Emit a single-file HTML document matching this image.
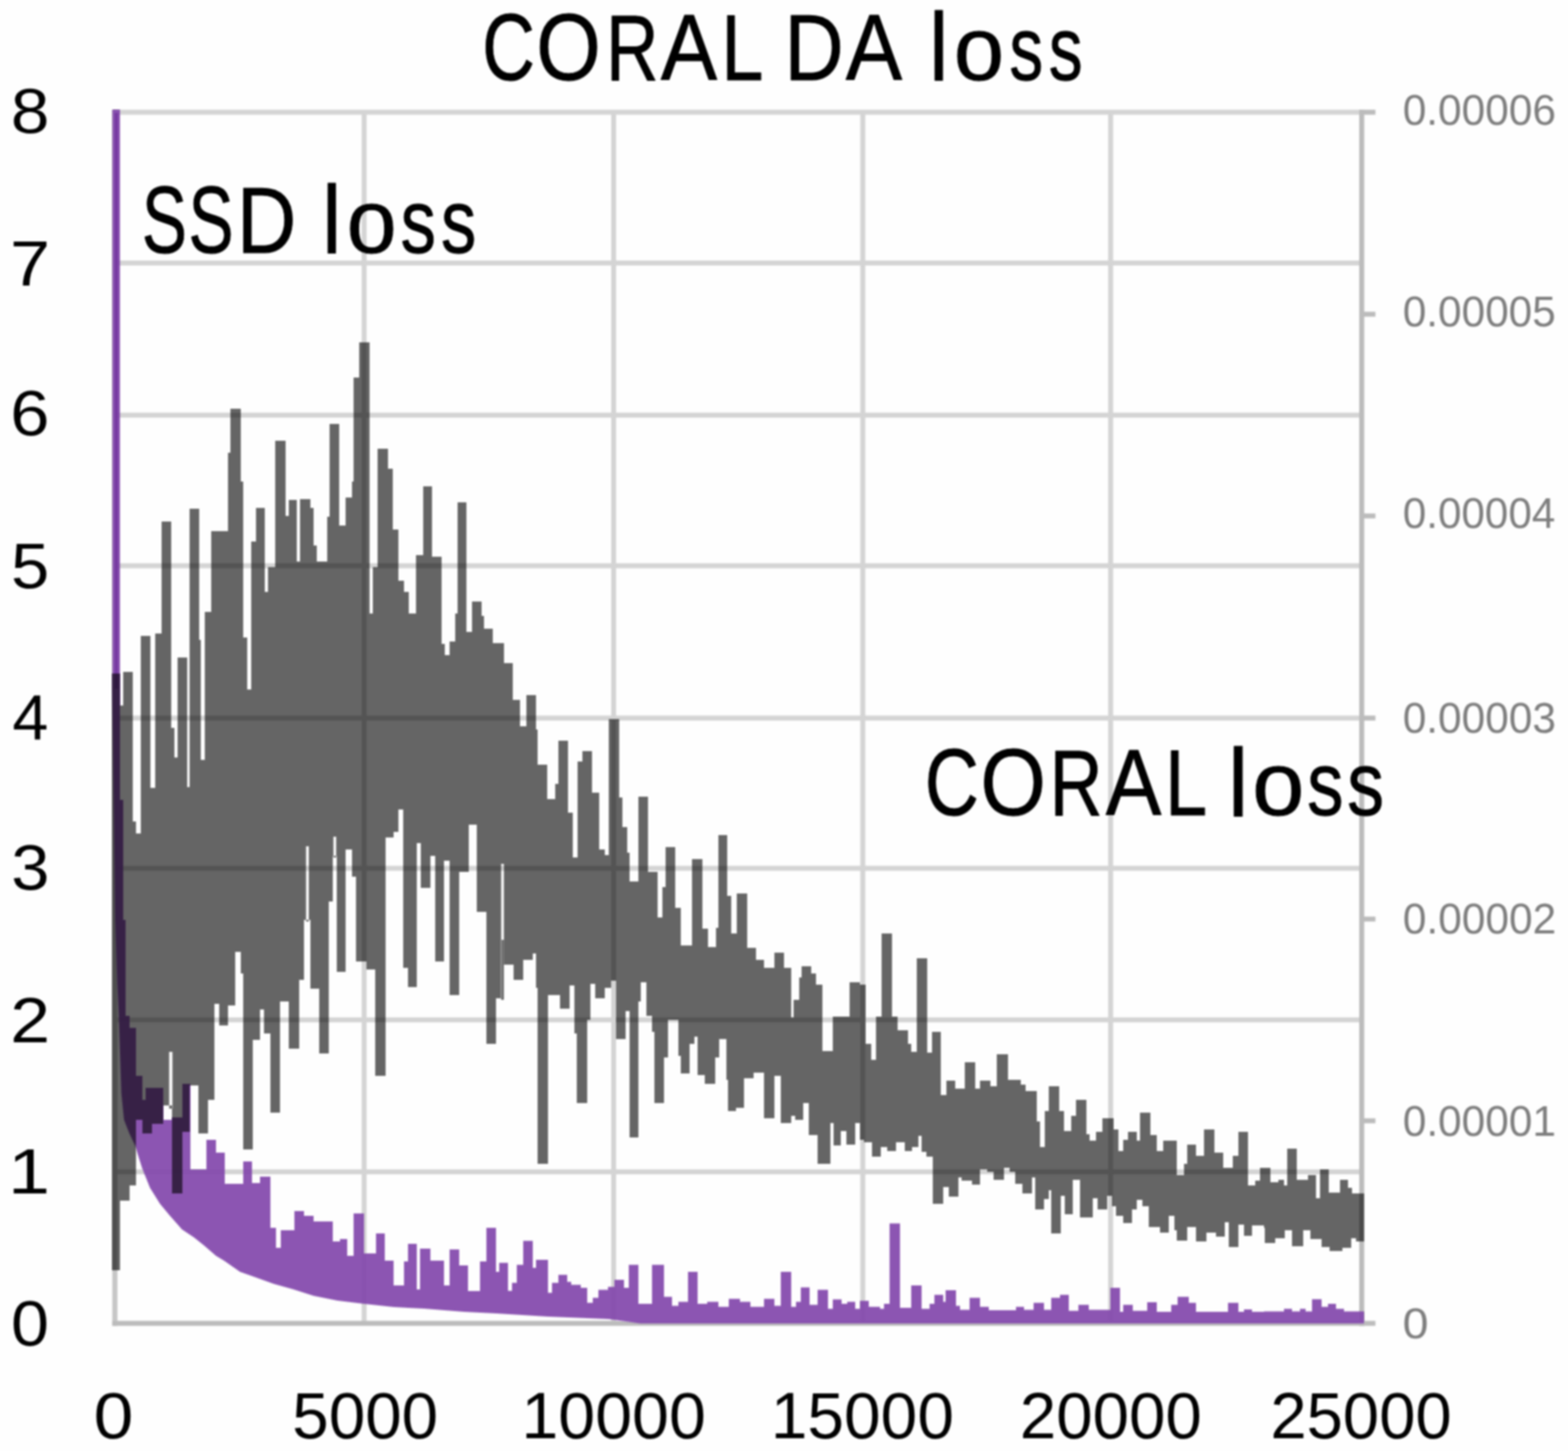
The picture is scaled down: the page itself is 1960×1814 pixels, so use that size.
<!DOCTYPE html>
<html lang="en">
<head>
<meta charset="utf-8">
<title>CORAL DA loss</title>
<style>
html,body{margin:0;padding:0;background:#fff;}
body{width:1960px;height:1814px;overflow:hidden;}
svg{display:block;font-family:"Liberation Sans","DejaVu Sans",sans-serif;}
</style>
</head>
<body>
<svg width="1960" height="1814" viewBox="0 0 1960 1814">
<defs>
<filter id="soft" x="-2%" y="-2%" width="104%" height="104%"><feGaussianBlur stdDeviation="1.3"/></filter>
</defs>
<rect width="1960" height="1814" fill="#fefefe"/>
<g id="grid" filter="url(#soft)"><rect x="452.1" y="140" width="6.2" height="1514" fill="#d4d4d4"/><rect x="764.0" y="140" width="6.2" height="1514" fill="#d4d4d4"/><rect x="1075.4" y="140" width="6.2" height="1514" fill="#d4d4d4"/><rect x="1385.2" y="140" width="6.2" height="1514" fill="#d4d4d4"/><rect x="143" y="137.2" width="1560" height="6.2" fill="#d4d4d4"/><rect x="143" y="325.7" width="1560" height="6.2" fill="#d4d4d4"/><rect x="143" y="515.9" width="1560" height="6.2" fill="#d4d4d4"/><rect x="143" y="704.2" width="1560" height="6.2" fill="#d4d4d4"/><rect x="143" y="894.6" width="1560" height="6.2" fill="#d4d4d4"/><rect x="143" y="1082.4" width="1560" height="6.2" fill="#d4d4d4"/><rect x="143" y="1271.9" width="1560" height="6.2" fill="#d4d4d4"/><rect x="143" y="1461.9" width="1560" height="6.2" fill="#d4d4d4"/><rect x="140.4" y="137.2" width="6.4" height="1520.3" fill="#c6c6c6"/><rect x="140.4" y="1651.3" width="1565" height="6.2" fill="#bcbcbc"/><rect x="1699" y="137.2" width="6.3" height="1520.3" fill="#bcbcbc"/><rect x="1699" y="137.2" width="20.3" height="6.2" fill="#bcbcbc"/><rect x="1699" y="389.7" width="20.3" height="6.2" fill="#bcbcbc"/><rect x="1699" y="641.9" width="20.3" height="6.2" fill="#bcbcbc"/><rect x="1699" y="894.6" width="20.3" height="6.2" fill="#bcbcbc"/><rect x="1699" y="1145.9" width="20.3" height="6.2" fill="#bcbcbc"/><rect x="1699" y="1398.1" width="20.3" height="6.2" fill="#bcbcbc"/><rect x="1699" y="1651.3" width="20.3" height="6.2" fill="#bcbcbc"/></g>
<g id="purple" filter="url(#soft)" opacity="0.93"><path d="M140.0 137.0 L150.0 137.0 L150.0 1000.0 L154.0 1000.0 L154.0 1150.0 L157.0 1150.0 L157.0 1270.0 L162.0 1270.0 L162.0 1285.0 L170.0 1285.0 L170.0 1345.0 L178.0 1345.0 L178.0 1375.0 L182.0 1375.0 L182.0 1360.0 L204.0 1360.0 L204.0 1400.0 L215.0 1400.0 L215.0 1397.0 L228.0 1397.0 L228.0 1355.0 L238.0 1355.0 L238.0 1462.0 L258.0 1462.0 L258.0 1425.0 L270.0 1425.0 L270.0 1441.0 L281.0 1441.0 L281.0 1480.0 L304.0 1480.0 L304.0 1452.0 L315.0 1452.0 L315.0 1479.0 L325.0 1479.0 L325.0 1471.0 L338.0 1471.0 L338.0 1535.0 L345.0 1535.0 L345.0 1560.0 L351.0 1560.0 L351.0 1538.0 L368.0 1538.0 L368.0 1514.0 L380.0 1514.0 L380.0 1520.0 L392.0 1520.0 L392.0 1527.0 L416.0 1527.0 L416.0 1552.0 L425.0 1552.0 L425.0 1549.0 L434.0 1549.0 L434.0 1570.0 L442.0 1570.0 L442.0 1517.0 L455.0 1517.0 L455.0 1567.0 L470.0 1567.0 L470.0 1542.0 L481.0 1542.0 L481.0 1576.0 L492.0 1576.0 L492.0 1607.0 L505.0 1607.0 L505.0 1577.0 L510.0 1577.0 L510.0 1555.0 L521.0 1555.0 L521.0 1612.0 L525.0 1612.0 L525.0 1561.0 L538.0 1561.0 L538.0 1576.0 L555.0 1576.0 L555.0 1607.0 L562.0 1607.0 L562.0 1562.0 L574.0 1562.0 L574.0 1582.0 L585.0 1582.0 L585.0 1614.0 L600.0 1614.0 L600.0 1577.0 L608.0 1577.0 L608.0 1535.0 L620.0 1535.0 L620.0 1590.0 L624.0 1590.0 L624.0 1578.8 L635.0 1578.8 L635.0 1613.8 L640.0 1613.8 L640.0 1603.8 L646.0 1603.8 L646.0 1581.2 L654.0 1581.2 L654.0 1551.2 L666.0 1551.2 L666.0 1585.0 L670.0 1585.0 L670.0 1575.0 L685.0 1575.0 L685.0 1616.2 L690.0 1616.2 L690.0 1603.8 L698.0 1603.8 L698.0 1593.8 L709.0 1593.8 L709.0 1602.5 L714.0 1602.5 L714.0 1606.2 L726.0 1606.2 L726.0 1610.0 L734.0 1610.0 L734.0 1628.8 L741.0 1628.8 L741.0 1622.5 L748.0 1622.5 L748.0 1612.5 L760.0 1612.5 L760.0 1608.8 L768.0 1608.8 L768.0 1600.0 L780.0 1600.0 L780.0 1610.0 L786.0 1610.0 L786.0 1581.2 L798.0 1581.2 L798.0 1630.0 L815.0 1630.0 L815.0 1581.2 L830.0 1581.2 L830.0 1621.2 L840.0 1621.2 L840.0 1632.5 L848.0 1632.5 L848.0 1627.5 L860.0 1627.5 L860.0 1590.0 L872.0 1590.0 L872.0 1630.0 L884.0 1630.0 L884.0 1627.5 L898.0 1627.5 L898.0 1633.8 L911.0 1633.8 L911.0 1623.8 L925.0 1623.8 L925.0 1627.5 L938.0 1627.5 L938.0 1633.8 L955.0 1633.8 L955.0 1623.8 L968.0 1623.8 L968.0 1632.5 L976.0 1632.5 L976.0 1590.0 L989.0 1590.0 L989.0 1633.8 L995.0 1633.8 L995.0 1627.5 L1001.0 1627.5 L1001.0 1609.5 L1012.0 1609.5 L1012.0 1631.2 L1022.0 1631.2 L1022.0 1612.5 L1035.0 1612.5 L1035.0 1636.2 L1041.0 1636.2 L1041.0 1624.5 L1052.0 1624.5 L1052.0 1630.0 L1059.0 1630.0 L1059.0 1627.5 L1069.0 1627.5 L1069.0 1636.2 L1075.0 1636.2 L1075.0 1626.2 L1086.0 1626.2 L1086.0 1633.8 L1100.0 1633.8 L1100.0 1636.2 L1105.0 1636.2 L1105.0 1630.0 L1112.0 1630.0 L1112.0 1529.5 L1125.0 1529.5 L1125.0 1635.0 L1139.0 1635.0 L1139.0 1607.0 L1152.0 1607.0 L1152.0 1636.2 L1162.0 1636.2 L1162.0 1630.0 L1168.0 1630.0 L1168.0 1618.8 L1179.0 1618.8 L1179.0 1627.5 L1182.0 1627.5 L1182.0 1613.0 L1195.0 1613.0 L1195.0 1632.5 L1200.0 1632.5 L1200.0 1637.5 L1212.0 1637.5 L1212.0 1622.5 L1225.0 1622.5 L1225.0 1633.8 L1236.0 1633.8 L1236.0 1638.0 L1270.0 1638.0 L1270.0 1633.8 L1280.0 1633.8 L1280.0 1637.5 L1292.0 1637.5 L1292.0 1628.8 L1305.0 1628.8 L1305.0 1637.5 L1314.0 1637.5 L1314.0 1622.5 L1325.0 1622.5 L1325.0 1618.8 L1336.0 1618.8 L1336.0 1638.8 L1348.0 1638.8 L1348.0 1631.2 L1361.0 1631.2 L1361.0 1637.5 L1388.0 1637.5 L1388.0 1610.0 L1400.0 1610.0 L1400.0 1640.0 L1404.0 1640.0 L1404.0 1631.2 L1416.0 1631.2 L1416.0 1638.8 L1434.0 1638.8 L1434.0 1628.0 L1446.0 1628.0 L1446.0 1640.0 L1464.0 1640.0 L1464.0 1631.2 L1472.0 1631.2 L1472.0 1621.2 L1486.0 1621.2 L1486.0 1628.8 L1495.0 1628.8 L1495.0 1640.0 L1535.0 1640.0 L1535.0 1628.8 L1548.0 1628.8 L1548.0 1640.0 L1555.0 1640.0 L1555.0 1637.0 L1565.0 1637.0 L1565.0 1640.0 L1580.0 1640.0 L1580.0 1639.5 L1605.0 1639.5 L1605.0 1636.2 L1615.0 1636.2 L1615.0 1639.5 L1625.0 1639.5 L1625.0 1636.2 L1632.0 1636.2 L1632.0 1639.5 L1640.0 1639.5 L1640.0 1624.2 L1652.0 1624.2 L1652.0 1633.8 L1660.0 1633.8 L1660.0 1630.0 L1670.0 1630.0 L1670.0 1636.2 L1680.0 1636.2 L1680.0 1639.5 L1705.0 1639.5 L1705.0 1654.5 L800.0 1654.5 L760.0 1649.0 L685.0 1646.0 L620.0 1642.0 L580.0 1640.0 L530.0 1636.0 L492.0 1634.0 L455.0 1630.0 L422.0 1626.0 L392.0 1620.0 L367.0 1612.0 L342.0 1605.0 L317.0 1596.0 L300.0 1590.0 L280.0 1576.0 L270.0 1570.0 L255.0 1557.0 L242.5 1547.0 L227.5 1537.0 L212.5 1520.0 L200.0 1505.0 L187.5 1485.0 L177.5 1460.0 L170.0 1436.0 L168.3 1431.0 L161.7 1417.0 L155.0 1400.0 L151.7 1367.0 L150.0 1317.0 L148.3 1267.0 L146.5 1230.0 L144.0 1150.0 L140.5 860.0 L140.5 137.0Z" fill="#8449ad"/><rect x="143.4" y="141" width="4.2" height="720" fill="#6f2f9e"/></g>
<g id="gray" filter="url(#soft)" opacity="0.6"><path d="M140 842H150V1588H140ZM150 882H154V1501H150ZM154 840H162V1501H154ZM162 840H166V1482H162ZM166 1027H170V1482H166ZM170 1042H176V1400H170ZM176 795H178V1400H176ZM178 795H188V1417H178ZM188 985H190V1417H188ZM190 985H194V1405H190ZM194 792H202V1405H194ZM202 652H204V1405H202ZM204 652H214V1382H204ZM214 910H215V1382H214ZM215 910H218V1492H215ZM218 947H222V1492H218ZM222 822H228V1492H222ZM228 822H234V1415H228ZM234 984H237V1415H234ZM237 636H238V1357H237ZM238 636H248V1357H238ZM248 636H249V1417H248ZM249 800H251V1417H249ZM251 950H256V1417H251ZM256 765H260V1417H256ZM260 765H264V1375H260ZM264 664H268V1375H264ZM268 664H274V1255H268ZM274 664H285V1282H274ZM285 566H288V1257H285ZM288 511H294V1257H288ZM294 511H301V1190H294ZM301 602H304V1217H301ZM304 797H309V1437H304ZM309 862H314V1437H309ZM314 677H316V1437H314ZM316 677H320V1300H316ZM320 635H325V1300H320ZM325 635H330V1262H325ZM330 635H331V1292H330ZM331 740H335V1292H331ZM335 709H338V1292H335ZM338 709H344V1391H338ZM344 551H350V1391H344ZM350 551H357V1252H350ZM357 645H361V1252H357ZM361 625H371V1311H361ZM371 702H374V1311H371ZM374 702H375V1225H374ZM375 624H380V1225H375ZM380 624H388V1150H380ZM388 635H392V1236H388ZM392 682H396V1236H392ZM396 702H399V1236H396ZM399 702H409V1317H399ZM409 646H411V1317H409ZM411 646H412V1127H411ZM412 530H416V1127H412ZM416 530H421V1070H416ZM421 530H424V1215H421ZM424 657H432V1215H424ZM432 622H440V1062H432ZM440 602H442V1096H440ZM442 472H445V1096H442ZM445 472H449V1202H445ZM449 428H458V1202H449ZM458 428H462V1212H458ZM462 767H466V1212H462ZM466 709H469V1212H466ZM469 709H472V1345H469ZM472 561H482V1345H472ZM482 561H485V1047H482ZM485 586H491V1047H485ZM491 662H492V1047H491ZM492 662H498V1040H492ZM498 726H504V1012H498ZM504 726H505V1210H504ZM505 740H510V1210H505ZM510 740H511V1234H510ZM511 767H520V1234H511ZM520 694H521V1234H520ZM521 694H526V1054H521ZM526 694H529V1110H526ZM529 608H538V1110H529ZM538 608H540V1070H538ZM540 696H544V1070H540ZM544 696H552V1202H544ZM552 805H555V1202H552ZM555 805H556V1076H555ZM556 819H562V1076H556ZM562 802H569V1244H562ZM569 767H572V1244H569ZM572 628H574V1244H572ZM574 628H583V1090H574ZM583 790H586V1090H583ZM586 790H590V1031H586ZM590 752H596V1031H590ZM596 752H602V1140H596ZM602 770H605V1140H602ZM605 786H608V1140H605ZM608 786H616V1305H608ZM616 804H620V1305H616ZM620 804H626V1248H620ZM626 804H630V1175H626ZM630 829H641V1206H630ZM641 875H642V1206H641ZM642 875H650V1225H642ZM650 908H654V1225H650ZM654 908H658V1200H654ZM658 869H666V1200H658ZM666 869H670V1192H666ZM670 912H672V1235H670ZM672 956H684V1455H672ZM684 999H685V1455H684ZM685 999H694V1244H685ZM694 980H698V1244H694ZM698 926H700V1244H698ZM700 926H710V1261H700ZM710 1016H712V1261H710ZM712 1016H716V1232H712ZM716 1072H718V1232H716ZM718 1072H721V1292H718ZM721 1072H722V1379H721ZM722 952H728V1379H722ZM728 939H734V1379H728ZM734 939H738V1275H734ZM738 939H740V1230H738ZM740 991H744V1230H740ZM744 991H749V1248H744ZM749 1062H756V1248H749ZM756 1069H761V1235H756ZM761 899H764V1235H761ZM764 899H770V1226H764ZM770 899H774V1299H770ZM774 997H778V1299H774ZM778 1034H782V1299H778ZM782 1034H784V1264H782ZM784 1066H787V1264H784ZM787 1102H788V1422H787ZM788 1102H798V1422H788ZM798 996H801V1252H798ZM801 996H808V1228H801ZM808 996H810V1270H808ZM810 1090H815V1270H810ZM815 1090H818V1290H815ZM818 1090H822V1379H818ZM822 1147H828V1379H822ZM828 1109H830V1379H828ZM830 1109H832V1322H830ZM832 1059H835V1322H832ZM835 1059H844V1275H835ZM844 1135H848V1275H844ZM848 1135H851V1320H848ZM851 1182H862V1342H851ZM862 1182H865V1305H862ZM865 1074H868V1305H865ZM868 1074H872V1296H868ZM872 1074H878V1344H872ZM878 1161H881V1344H878ZM881 1161H885V1355H881ZM885 1184H894V1355H885ZM894 1184H895V1322H894ZM895 1160H898V1322H895ZM898 1044H899V1322H898ZM899 1044H908V1299H899ZM908 1044H909V1350H908ZM909 1120H910V1350H909ZM910 1120H914V1389H910ZM914 1167H920V1389H914ZM920 1167H921V1385H920ZM921 1117H930V1385H921ZM930 1117H934V1348H930ZM934 1185H942V1348H934ZM942 1185H945V1341H942ZM945 1200H955V1341H945ZM955 1210H968V1398H955ZM968 1191H976V1345H968ZM976 1191H980V1404H976ZM980 1210H989V1404H980ZM989 1272H992V1395H989ZM992 1250H994V1395H992ZM994 1250H999V1400H994ZM999 1222H1002V1400H999ZM1002 1208H1004V1400H1002ZM1004 1208H1011V1379H1004ZM1011 1208H1014V1419H1011ZM1014 1217H1020V1419H1014ZM1020 1231H1022V1419H1020ZM1022 1231H1028V1455H1022ZM1028 1314H1038V1455H1028ZM1038 1314H1041V1404H1038ZM1041 1271H1042V1404H1041ZM1042 1271H1051V1432H1042ZM1051 1271H1058V1414H1051ZM1058 1271H1062V1431H1058ZM1062 1228H1069V1431H1062ZM1069 1228H1075V1404H1069ZM1075 1231H1080V1425H1075ZM1080 1231H1082V1428H1080ZM1082 1305H1089V1428H1082ZM1089 1325H1090V1428H1089ZM1090 1325H1095V1446H1090ZM1095 1271H1100V1446H1095ZM1100 1271H1101V1446H1100ZM1101 1271H1102V1434H1101ZM1102 1167H1109V1434H1102ZM1109 1167H1115V1439H1109ZM1115 1271H1120V1439H1115ZM1120 1271H1122V1428H1120ZM1122 1288H1131V1428H1122ZM1131 1288H1135V1439H1131ZM1135 1305H1139V1439H1135ZM1139 1315H1140V1439H1139ZM1140 1315H1146V1434H1140ZM1146 1198H1148V1434H1146ZM1148 1198H1152V1420H1148ZM1152 1198H1158V1440H1152ZM1158 1198H1159V1446H1158ZM1159 1316H1165V1446H1159ZM1165 1290H1166V1446H1165ZM1166 1290H1176V1505H1166ZM1176 1369H1179V1505H1176ZM1179 1369H1183V1484H1179ZM1183 1351H1186V1484H1183ZM1186 1351H1194V1496H1186ZM1194 1361H1198V1496H1194ZM1198 1361H1202V1472H1198ZM1202 1361H1206V1476H1202ZM1206 1328H1215V1476H1206ZM1215 1328H1219V1481H1215ZM1219 1361H1225V1481H1219ZM1225 1351H1234V1462H1225ZM1234 1351H1238V1465H1234ZM1238 1358H1242V1465H1238ZM1242 1358H1246V1475H1242ZM1246 1318H1255V1475H1246ZM1255 1318H1260V1460H1255ZM1260 1350H1262V1460H1260ZM1262 1350H1269V1465H1262ZM1269 1350H1276V1480H1269ZM1276 1356H1278V1480H1276ZM1278 1356H1282V1492H1278ZM1282 1364H1290V1492H1282ZM1290 1364H1294V1472H1290ZM1294 1364H1296V1512H1294ZM1296 1402H1300V1512H1296ZM1300 1434H1305V1512H1300ZM1305 1434H1306V1499H1305ZM1306 1389H1311V1499H1306ZM1311 1358H1314V1488H1311ZM1314 1358H1324V1542H1314ZM1324 1389H1326V1542H1324ZM1326 1389H1330V1495H1326ZM1330 1414H1331V1495H1330ZM1331 1414H1339V1518H1331ZM1339 1395H1341V1518H1339ZM1341 1395H1345V1475H1341ZM1345 1375H1350V1475H1345ZM1350 1375H1358V1522H1350ZM1358 1418H1362V1522H1358ZM1362 1426H1366V1522H1362ZM1366 1426H1370V1498H1366ZM1370 1415H1372V1498H1370ZM1372 1415H1378V1512H1372ZM1378 1398H1384V1512H1378ZM1384 1398H1390V1495H1384ZM1390 1398H1392V1508H1390ZM1392 1412H1395V1508H1392ZM1395 1412H1398V1520H1395ZM1398 1439H1404V1520H1398ZM1404 1425H1410V1529H1404ZM1410 1415H1415V1529H1410ZM1415 1415H1421V1512H1415ZM1421 1426H1425V1500H1421ZM1425 1391H1428V1500H1425ZM1428 1391H1436V1508H1428ZM1436 1391H1438V1534H1436ZM1438 1419H1446V1534H1438ZM1446 1439H1450V1534H1446ZM1450 1439H1454V1541H1450ZM1454 1426H1461V1541H1454ZM1461 1426H1468V1520H1461ZM1468 1426H1471V1538H1468ZM1471 1469H1480V1551H1471ZM1480 1455H1484V1551H1480ZM1484 1431H1495V1534H1484ZM1495 1445H1505V1552H1495ZM1505 1412H1508V1552H1505ZM1508 1412H1518V1541H1508ZM1518 1441H1520V1541H1518ZM1520 1441H1529V1546H1520ZM1529 1460H1531V1546H1529ZM1531 1460H1536V1528H1531ZM1536 1460H1541V1559H1536ZM1541 1445H1548V1559H1541ZM1548 1415H1555V1531H1548ZM1555 1415H1560V1545H1555ZM1560 1482H1565V1545H1560ZM1565 1482H1569V1532H1565ZM1569 1476H1575V1532H1569ZM1575 1460H1580V1532H1575ZM1580 1460H1581V1535H1580ZM1581 1460H1588V1554H1581ZM1588 1478H1594V1554H1588ZM1594 1478H1598V1548H1594ZM1598 1475H1605V1548H1598ZM1605 1482H1606V1548H1605ZM1606 1482H1609V1538H1606ZM1609 1436H1615V1538H1609ZM1615 1436H1621V1558H1615ZM1621 1475H1629V1558H1621ZM1629 1475H1635V1538H1629ZM1635 1469H1638V1538H1635ZM1638 1469H1645V1549H1638ZM1645 1498H1650V1549H1645ZM1650 1462H1652V1549H1650ZM1652 1462H1661V1559H1652ZM1661 1491H1662V1559H1661ZM1662 1491H1675V1564H1662ZM1675 1475H1678V1564H1675ZM1678 1475H1685V1560H1678ZM1685 1485H1689V1560H1685ZM1689 1485H1690V1548H1689ZM1690 1492H1695V1548H1690ZM1695 1492H1705V1552H1695ZM211.5 1315H215.5V1386H211.5ZM626.5 1080H629.8V1250H626.5ZM382.6 1058H386.0V1152H382.6ZM416.8 1046H420.2V1072H416.8Z" fill="#000" fill-rule="evenodd"/></g>
<g id="labels" style="filter:blur(0.9px)"><text fill="#000" stroke="#000" stroke-width="1.0" stroke-linejoin="round"><tspan x="602.7" y="99.8" font-size="118.3" textLength="65.9" lengthAdjust="spacingAndGlyphs">C</tspan><tspan x="670.3" y="99.8" font-size="118.3" textLength="80.8" lengthAdjust="spacingAndGlyphs">O</tspan><tspan x="757.4" y="99.7" font-size="117.5" textLength="65.7" lengthAdjust="spacingAndGlyphs">R</tspan><tspan x="826.0" y="99.7" font-size="117.5" textLength="70.4" lengthAdjust="spacingAndGlyphs">A</tspan><tspan x="901.5" y="99.7" font-size="117.5" textLength="52.7" lengthAdjust="spacingAndGlyphs">L</tspan> <tspan x="980.5" y="99.7" font-size="117.5" textLength="74.2" lengthAdjust="spacingAndGlyphs">D</tspan><tspan x="1057.2" y="99.7" font-size="117.5" textLength="70.4" lengthAdjust="spacingAndGlyphs">A</tspan> <tspan x="1161.5" y="100.0" font-size="120.5" textLength="23.9" lengthAdjust="spacingAndGlyphs">l</tspan><tspan x="1192.3" y="99.9" font-size="112.3" textLength="62.9" lengthAdjust="spacingAndGlyphs">o</tspan><tspan x="1261.7" y="99.9" font-size="112.3" textLength="42.2" lengthAdjust="spacingAndGlyphs">s</tspan><tspan x="1311.1" y="99.9" font-size="112.3" textLength="42.3" lengthAdjust="spacingAndGlyphs">s</tspan></text>
<text fill="#000" stroke="#000" stroke-width="1.0" stroke-linejoin="round"><tspan x="177.2" y="315.8" font-size="118.3" textLength="56.5" lengthAdjust="spacingAndGlyphs">S</tspan><tspan x="235.6" y="315.8" font-size="118.3" textLength="56.5" lengthAdjust="spacingAndGlyphs">S</tspan><tspan x="296.0" y="315.7" font-size="117.5" textLength="74.4" lengthAdjust="spacingAndGlyphs">D</tspan> <tspan x="402.8" y="316.0" font-size="120.5" textLength="23.9" lengthAdjust="spacingAndGlyphs">l</tspan><tspan x="433.2" y="315.9" font-size="112.3" textLength="62.6" lengthAdjust="spacingAndGlyphs">o</tspan><tspan x="500.7" y="315.9" font-size="112.3" textLength="44.2" lengthAdjust="spacingAndGlyphs">s</tspan><tspan x="551.3" y="315.9" font-size="112.3" textLength="44.1" lengthAdjust="spacingAndGlyphs">s</tspan></text>
<text fill="#000" stroke="#000" stroke-width="1.0" stroke-linejoin="round"><tspan x="1155.9" y="1019.3" font-size="118.3" textLength="67.7" lengthAdjust="spacingAndGlyphs">C</tspan><tspan x="1225.4" y="1019.3" font-size="118.3" textLength="81.9" lengthAdjust="spacingAndGlyphs">O</tspan><tspan x="1312.0" y="1019.2" font-size="117.5" textLength="66.3" lengthAdjust="spacingAndGlyphs">R</tspan><tspan x="1382.3" y="1019.2" font-size="117.5" textLength="69.4" lengthAdjust="spacingAndGlyphs">A</tspan><tspan x="1456.2" y="1019.2" font-size="117.5" textLength="52.8" lengthAdjust="spacingAndGlyphs">L</tspan> <tspan x="1535.1" y="1019.5" font-size="120.5" textLength="25.6" lengthAdjust="spacingAndGlyphs">l</tspan><tspan x="1565.3" y="1019.4" font-size="112.3" textLength="65.2" lengthAdjust="spacingAndGlyphs">o</tspan><tspan x="1634.0" y="1019.4" font-size="112.3" textLength="45.4" lengthAdjust="spacingAndGlyphs">s</tspan><tspan x="1684.0" y="1019.4" font-size="112.3" textLength="46.1" lengthAdjust="spacingAndGlyphs">s</tspan></text>
<text fill="#000"><tspan x="13.5" y="165.7" font-size="80.0" textLength="48.3" lengthAdjust="spacingAndGlyphs">8</tspan></text>
<text fill="#000"><tspan x="12.5" y="356.8" font-size="80.0" textLength="50.1" lengthAdjust="spacingAndGlyphs">7</tspan></text>
<text fill="#000"><tspan x="12.8" y="543.5" font-size="80.0" textLength="49.1" lengthAdjust="spacingAndGlyphs">6</tspan></text>
<text fill="#000"><tspan x="13.8" y="734.5" font-size="80.0" textLength="47.8" lengthAdjust="spacingAndGlyphs">5</tspan></text>
<text fill="#000"><tspan x="15.4" y="924.1" font-size="80.0" textLength="44.9" lengthAdjust="spacingAndGlyphs">4</tspan></text>
<text fill="#000"><tspan x="14.0" y="1112.0" font-size="80.0" textLength="47.8" lengthAdjust="spacingAndGlyphs">3</tspan></text>
<text fill="#000"><tspan x="12.7" y="1302.5" font-size="80.0" textLength="49.9" lengthAdjust="spacingAndGlyphs">2</tspan></text>
<text fill="#000"><tspan x="10.1" y="1491.5" font-size="80.0" textLength="52.5" lengthAdjust="spacingAndGlyphs">1</tspan></text>
<text fill="#000"><tspan x="13.8" y="1681.5" font-size="80.0" textLength="47.5" lengthAdjust="spacingAndGlyphs">0</tspan></text>
<text fill="#000"><tspan x="117.1" y="1798.2" font-size="82.0" textLength="49.7" lengthAdjust="spacingAndGlyphs">0</tspan></text>
<text fill="#000"><tspan x="365.3" y="1798.2" font-size="82.0" textLength="182.4" lengthAdjust="spacingAndGlyphs">5000</tspan></text>
<text fill="#000"><tspan x="651.7" y="1798.2" font-size="82.0" textLength="230.7" lengthAdjust="spacingAndGlyphs">10000</tspan></text>
<text fill="#000"><tspan x="963.6" y="1798.2" font-size="82.0" textLength="228.8" lengthAdjust="spacingAndGlyphs">15000</tspan></text>
<text fill="#000"><tspan x="1274.7" y="1798.2" font-size="82.0" textLength="227.6" lengthAdjust="spacingAndGlyphs">20000</tspan></text>
<text fill="#000"><tspan x="1587.9" y="1798.2" font-size="82.0" textLength="226.7" lengthAdjust="spacingAndGlyphs">25000</tspan></text>
<text fill="#7e7e7e"><tspan x="1753.4" y="156.2" font-size="53.1" textLength="191.5" lengthAdjust="spacingAndGlyphs">0.00006</tspan></text>
<text fill="#7e7e7e"><tspan x="1753.4" y="408.0" font-size="53.1" textLength="191.3" lengthAdjust="spacingAndGlyphs">0.00005</tspan></text>
<text fill="#7e7e7e"><tspan x="1753.4" y="660.3" font-size="53.1" textLength="190.7" lengthAdjust="spacingAndGlyphs">0.00004</tspan></text>
<text fill="#7e7e7e"><tspan x="1753.4" y="915.6" font-size="53.1" textLength="191.5" lengthAdjust="spacingAndGlyphs">0.00003</tspan></text>
<text fill="#7e7e7e"><tspan x="1753.4" y="1167.3" font-size="53.1" textLength="191.9" lengthAdjust="spacingAndGlyphs">0.00002</tspan></text>
<text fill="#7e7e7e"><tspan x="1753.4" y="1420.2" font-size="53.1" textLength="191.7" lengthAdjust="spacingAndGlyphs">0.00001</tspan></text>
<text fill="#7e7e7e"><tspan x="1753.2" y="1672.9" font-size="53.1" textLength="32.4" lengthAdjust="spacingAndGlyphs">0</tspan></text></g>
</svg>
</body>
</html>
